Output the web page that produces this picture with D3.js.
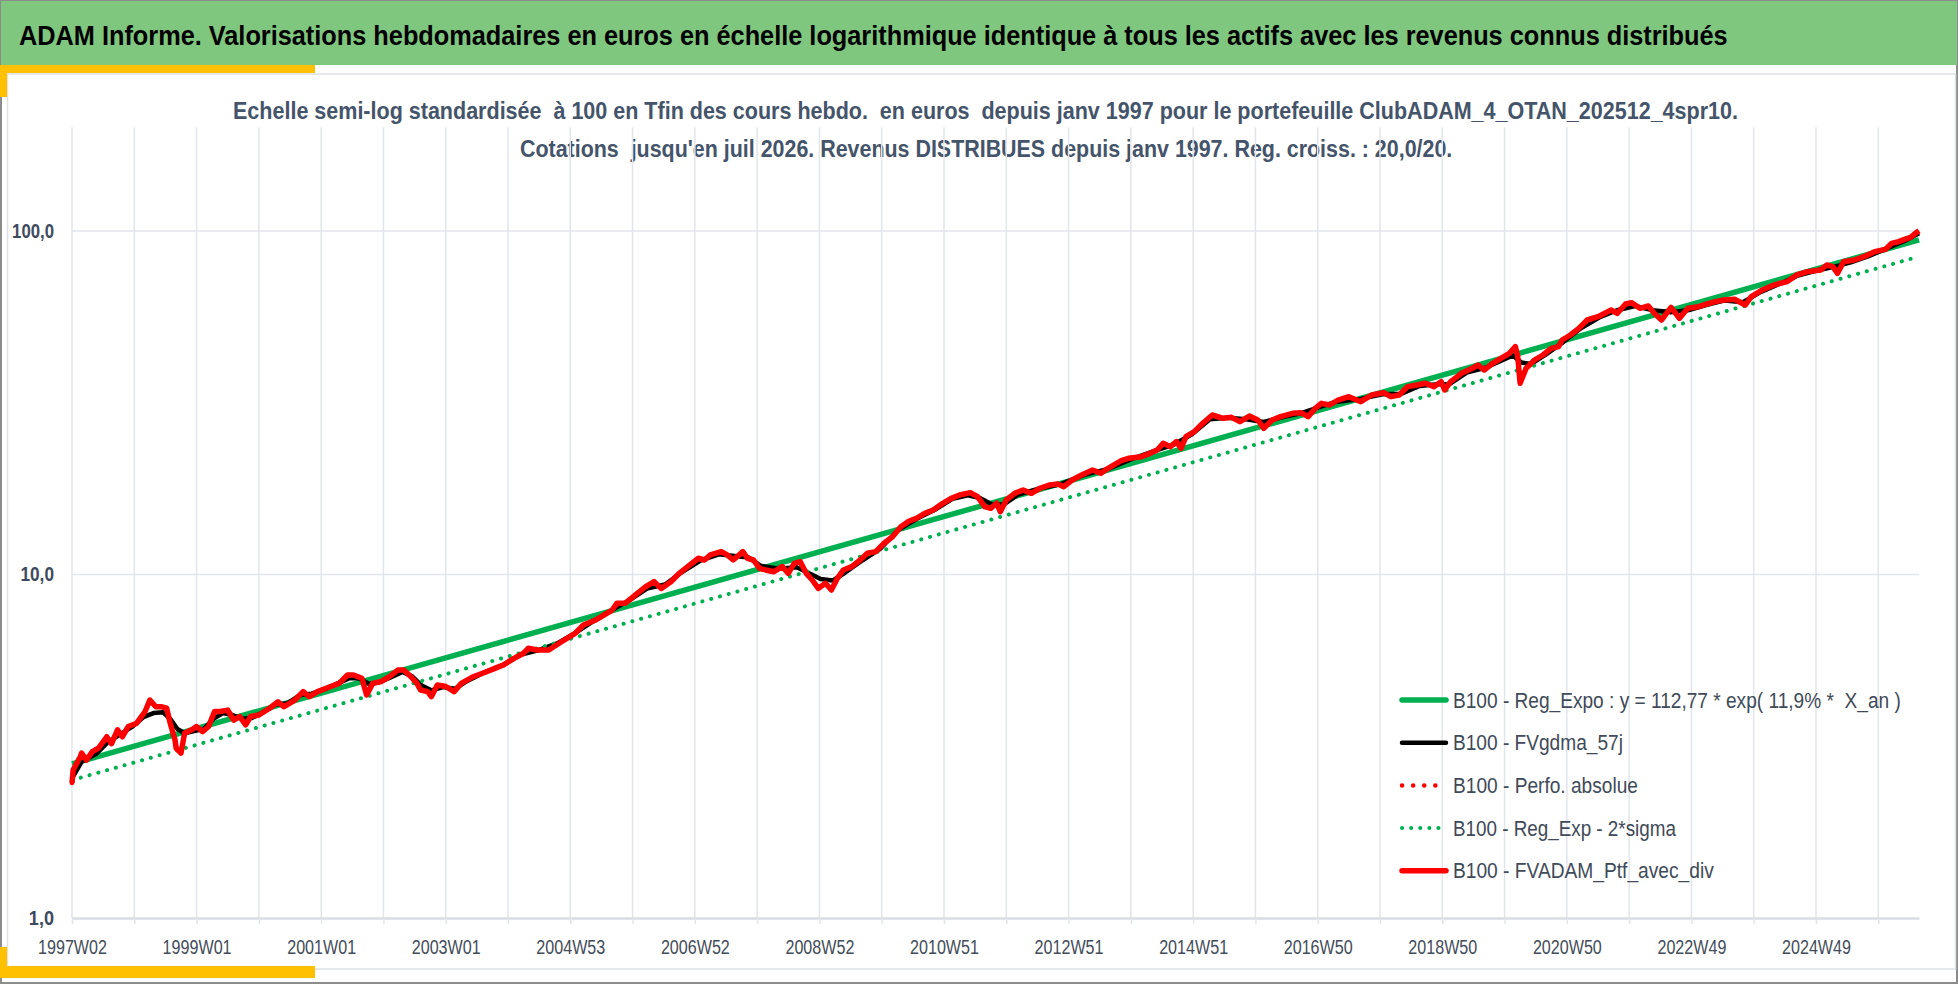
<!DOCTYPE html>
<html>
<head>
<meta charset="utf-8">
<script src="https://cdn.jsdelivr.net/npm/d3@7"></script>
<style>
  body { margin: 0; background: #fff; }
  text { font-family: "Liberation Sans Narrow", "Liberation Sans", Arial, sans-serif; white-space: pre; }
</style>
</head>
<body>
<div id="chart"></div>
<script>
// ---- data (week index from 1997W02, B100 values) ----
const xLabels = ["1997W02", "1999W01", "2001W01", "2003W01", "2004W53", "2006W52", "2008W52",
  "2010W51", "2012W51", "2014W51", "2016W50", "2018W50", "2020W50", "2022W49", "2024W49"];
const lastWeek = 1542;
const labelStep = 104;
const gridStep = 52;
const yTicks = [1, 10, 100];

const regPoints = [[0, 2.81], [1542, 94.2]];
const sigmaPoints = [[0, 2.52], [1542, 84.3]];

const ptfPoints = [
  [0, 2.47], [1, 2.70], [7, 2.95], [8, 3.02], [12, 2.88], [17, 3.05], [22, 3.12], [29, 3.37], [33, 3.22],
  [38, 3.53], [42, 3.37], [47, 3.61], [54, 3.69], [61, 3.99], [65, 4.31], [70, 4.12], [75, 4.12], [79, 4.08],
  [82, 3.69], [86, 3.30], [87, 3.12], [91, 3.02], [94, 3.45], [100, 3.53], [104, 3.61], [109, 3.49], [114, 3.61],
  [119, 3.99], [124, 3.99], [130, 4.03], [135, 3.77], [140, 3.86], [145, 3.65], [149, 3.86], [156, 3.90],
  [165, 4.08], [172, 4.26], [177, 4.12], [186, 4.31], [193, 4.56], [198, 4.41], [205, 4.56], [216, 4.72],
  [223, 4.82], [230, 5.10], [235, 5.10], [242, 4.99], [246, 4.46], [251, 4.82], [258, 4.88], [265, 5.04],
  [272, 5.27], [277, 5.27], [283, 5.04], [288, 4.82], [291, 4.61], [297, 4.56], [300, 4.41], [305, 4.77],
  [312, 4.72], [319, 4.56], [325, 4.82], [335, 5.04], [346, 5.21], [353, 5.33], [360, 5.45], [369, 5.70],
  [377, 5.90], [381, 6.10], [388, 6.03], [398, 6.03], [409, 6.38], [420, 6.74], [427, 7.13], [437, 7.37],
  [444, 7.62], [451, 7.88], [455, 8.25], [462, 8.25], [472, 8.81], [479, 9.22], [486, 9.53], [492, 9.11],
  [500, 9.53], [507, 10.08], [514, 10.54], [523, 11.15], [528, 11.02], [533, 11.40], [542, 11.66], [547, 11.40],
  [552, 11.02], [557, 11.40], [560, 11.66], [564, 11.15], [569, 11.02], [574, 10.42], [579, 10.31], [586, 10.19],
  [593, 10.54], [598, 10.08], [603, 10.78], [608, 10.90], [613, 10.08], [618, 9.64], [623, 9.11], [629, 9.43],
  [634, 9.01], [639, 9.75], [644, 10.31], [651, 10.54], [658, 11.02], [664, 11.53], [671, 11.66], [678, 12.33],
  [685, 12.88], [692, 13.78], [698, 14.25], [705, 14.58], [712, 15.07], [719, 15.41], [727, 16.12], [734, 16.66],
  [741, 17.04], [750, 17.31], [756, 16.85], [762, 15.76], [767, 15.58], [772, 16.12], [775, 15.24], [780, 16.48],
  [787, 17.23], [794, 17.62], [801, 17.23], [808, 17.82], [816, 18.22], [823, 18.34], [828, 18.02], [835, 18.84],
  [843, 19.49], [852, 20.15], [859, 19.71], [865, 20.38], [876, 21.45], [882, 21.79], [893, 22.03], [900, 22.53],
  [906, 23.04], [911, 24.09], [917, 23.56], [922, 24.36], [926, 23.30], [930, 25.19], [937, 26.05], [944, 27.55],
  [952, 29.13], [961, 28.49], [968, 28.68], [975, 27.86], [983, 28.93], [990, 28.17], [995, 26.65], [1002, 28.17],
  [1009, 28.81], [1019, 29.46], [1026, 29.59], [1032, 28.81], [1038, 30.46], [1043, 31.50], [1050, 31.15],
  [1057, 32.21], [1066, 32.94], [1076, 31.85], [1085, 33.31], [1095, 33.83], [1101, 32.94], [1108, 33.31],
  [1115, 35.23], [1123, 35.63], [1130, 36.03], [1137, 35.23], [1143, 36.43], [1146, 34.45], [1151, 36.43],
  [1160, 38.52], [1169, 39.83], [1174, 40.73], [1179, 39.38], [1186, 41.19], [1193, 42.60], [1200, 44.05],
  [1205, 46.06], [1207, 43.07], [1209, 36.03], [1214, 39.83], [1221, 42.12], [1228, 43.55], [1235, 45.54],
  [1241, 46.06], [1244, 48.16], [1251, 49.80], [1258, 52.07], [1265, 55.07], [1274, 56.31], [1285, 58.89],
  [1290, 57.59], [1297, 61.31], [1302, 61.86], [1309, 59.56], [1316, 60.49], [1321, 57.59], [1327, 55.07],
  [1335, 59.95], [1342, 55.69], [1349, 59.56], [1358, 60.22], [1365, 61.31], [1372, 62.28], [1379, 62.98],
  [1388, 63.27], [1397, 60.89], [1402, 64.41], [1411, 67.35], [1421, 69.65], [1432, 71.23], [1440, 74.47],
  [1449, 76.16], [1460, 77.01], [1465, 79.62], [1470, 78.74], [1474, 75.31], [1479, 81.42], [1488, 82.33],
  [1496, 84.20], [1505, 87.07], [1514, 88.44], [1519, 92.06], [1525, 93.09], [1530, 94.56], [1535, 95.84],
  [1539, 98.45], [1542, 100.2]
];

const gdmaPoints = [
  [0, 2.55], [8, 2.85], [20, 3.0], [30, 3.25], [40, 3.42], [50, 3.6], [60, 3.85], [68, 3.95], [76, 3.97],
  [82, 3.8], [88, 3.55], [94, 3.45], [102, 3.5], [110, 3.55], [118, 3.8], [126, 3.95], [134, 3.9], [142, 3.8],
  [150, 3.82], [160, 3.98], [170, 4.18], [180, 4.22], [190, 4.45], [200, 4.5], [212, 4.65], [222, 4.82],
  [232, 5.0], [240, 4.98], [248, 4.8], [256, 4.85], [266, 5.02], [276, 5.2], [284, 5.05], [292, 4.75],
  [300, 4.6], [310, 4.7], [320, 4.65], [330, 4.9], [345, 5.2], [360, 5.45], [375, 5.85], [390, 6.03],
  [405, 6.3], [420, 6.75], [435, 7.3], [450, 7.85], [465, 8.4], [480, 9.1], [495, 9.35], [510, 10.2],
  [525, 11.0], [540, 11.45], [555, 11.3], [565, 11.2], [575, 10.6], [590, 10.4], [605, 10.5], [615, 10.1],
  [625, 9.7], [635, 9.6], [645, 10.1], [660, 11.0], [675, 11.9], [690, 13.5], [705, 14.5], [720, 15.4],
  [735, 16.6], [748, 17.0], [758, 16.7], [768, 16.0], [778, 16.0], [790, 17.1], [805, 17.7], [825, 18.3],
  [845, 19.5], [865, 20.3], [885, 21.7], [905, 23.0], [920, 23.9], [935, 25.6], [950, 28.3], [965, 28.6],
  [980, 28.3], [995, 27.8], [1010, 28.7], [1025, 29.4], [1040, 30.6], [1055, 31.8], [1075, 32.4], [1095, 33.5],
  [1110, 33.6], [1125, 35.4], [1140, 35.8], [1150, 35.8], [1165, 38.8], [1180, 40.0], [1195, 42.2],
  [1203, 43.4], [1210, 41.4], [1218, 41.0], [1230, 43.6], [1245, 47.5], [1260, 52.2], [1275, 56.0],
  [1290, 58.8], [1305, 60.5], [1320, 58.8], [1335, 58.0], [1350, 58.9], [1365, 61.0], [1380, 62.8],
  [1395, 62.0], [1410, 66.5], [1425, 70.0], [1440, 74.0], [1455, 76.5], [1470, 78.5], [1485, 81.0],
  [1500, 84.5], [1515, 89.0], [1530, 93.5], [1542, 98.5]
];

const legendItems = [
  { name: "B100 - Reg_Expo : y = 112,77 * exp( 11,9% *  X_an )", color: "#00B050", width: 5.5, dash: null, len: 448 },
  { name: "B100 - FVgdma_57j", color: "#000000", width: 4.5, dash: null, len: 170 },
  { name: "B100 - Perfo. absolue", color: "#FF0000", width: 4.5, dash: "0.1 11", len: 185 },
  { name: "B100 - Reg_Exp - 2*sigma", color: "#00B050", width: 4, dash: "0.1 9", len: 223 },
  { name: "B100 - FVADAM_Ptf_avec_div", color: "#FF0000", width: 5.5, dash: null, len: 261 }
];

const W = 1958, H = 984;
const plot = { left: 72, right: 1919, top: 127.6, bottom: 918 };

const svg = d3.select("#chart").append("svg")
  .attr("width", W).attr("height", H);

// squeeze a text horizontally so it covers `target` px (condensed font look)
function squeeze(node, target, tx, ty) {
  const s = target / node.getComputedTextLength();
  d3.select(node).attr("transform", `translate(${tx},${ty}) scale(${s},1)`);
}

function addText(x0, y0, target, size, weight, color, str) {
  const t = svg.append("text").attr("x", 0).attr("y", 0)
    .attr("font-size", size).attr("font-weight", weight).attr("fill", color)
    .text(str);
  squeeze(t.node(), target, x0, y0);
  return t;
}

// frame, header, yellow accents
svg.append("rect").attr("x", 1).attr("y", 1).attr("width", W - 2).attr("height", H - 2)
  .attr("fill", "#fff").attr("stroke", "#8C8C8C").attr("stroke-width", 2);
svg.append("rect").attr("x", 1).attr("y", 1).attr("width", W - 2).attr("height", 64).attr("fill", "#7FC77F");
svg.append("rect").attr("x", 7.5).attr("y", 74).attr("width", W - 10).attr("height", 895)
  .attr("fill", "#fff").attr("stroke", "#DDE0E5").attr("stroke-width", 1.5);

const yellow = "#FFC000";
svg.append("rect").attr("x", 0).attr("y", 65).attr("width", 315).attr("height", 8).attr("fill", yellow);
svg.append("rect").attr("x", 0).attr("y", 65).attr("width", 7).attr("height", 32).attr("fill", yellow);
svg.append("rect").attr("x", 0).attr("y", 966).attr("width", 315).attr("height", 12).attr("fill", yellow);
svg.append("rect").attr("x", 0).attr("y", 947).attr("width", 7).attr("height", 31).attr("fill", yellow);

addText(19, 45, 1710, 27, "bold", "#000",
  "ADAM Informe. Valorisations hebdomadaires en euros en échelle logarithmique identique à tous les actifs avec les revenus connus distribués");
addText(233, 119, 1506, 24.5, "bold", "#44546A",
  "Echelle semi-log standardisée  à 100 en Tfin des cours hebdo.  en euros  depuis janv 1997 pour le portefeuille ClubADAM_4_OTAN_202512_4spr10.");
addText(520, 157, 933, 24.5, "bold", "#44546A",
  "Cotations  jusqu'en juil 2026. Revenus DISTRIBUES depuis janv 1997. Reg. croiss. : 20,0/20.");

// scales
const x = d3.scaleLinear().domain([0, lastWeek]).range([plot.left, plot.right]);
const y = d3.scaleLog().domain([1, 200]).range([plot.bottom, plot.top]);
const fr = d3.formatLocale({ decimal: ",", thousands: "\u00a0", grouping: [3], currency: ["", " €"] });
const yFmt = fr.format(".1f");

const gridWeeks = d3.range(0, lastWeek + 1, gridStep);
const gridColor = "#E2E5EB";

// vertical gridlines
svg.append("g").selectAll("line").data(gridWeeks).join("line")
  .attr("x1", d => x(d)).attr("x2", d => x(d))
  .attr("y1", plot.top).attr("y2", plot.bottom)
  .attr("stroke", gridColor).attr("stroke-width", 1.5);

// horizontal gridlines
svg.append("g").selectAll("line").data(yTicks.slice(1)).join("line")
  .attr("x1", plot.left).attr("x2", plot.right)
  .attr("y1", d => y(d)).attr("y2", d => y(d))
  .attr("stroke", gridColor).attr("stroke-width", 1.5);

// x axis
const xAxis = svg.append("g")
  .attr("transform", `translate(0,${plot.bottom})`)
  .call(d3.axisBottom(x).tickValues(gridWeeks).tickSize(6).tickSizeOuter(0).tickPadding(15)
    .tickFormat(d => d % labelStep === 0 ? xLabels[d / labelStep] : ""));
xAxis.select(".domain").attr("stroke", "#D9DCE2").attr("stroke-width", 2.5);
xAxis.selectAll(".tick line").attr("stroke", gridColor).attr("stroke-width", 1.5);
xAxis.selectAll(".tick text").attr("font-size", 21).attr("fill", "#434C59")
  .attr("font-family", null)
  .filter(d => d % labelStep === 0)
  .each(function () { squeeze(this, 69, 0, 0); });

// y axis
const yAxis = svg.append("g")
  .attr("transform", `translate(${plot.left},0)`)
  .call(d3.axisLeft(y).tickValues(yTicks).tickSize(0).tickPadding(18).tickFormat(yFmt));
yAxis.select(".domain").remove();
yAxis.selectAll(".tick text").attr("font-size", 20).attr("font-weight", "bold").attr("fill", "#3E4B5E")
  .attr("font-family", null)
  .attr("x", 0)
  .each(function (d) { squeeze(this, yFmt(d).length * 8.4, -18, 0); });

// series
const line = d3.line().x(d => x(d[0])).y(d => y(d[1]));
const series = [
  { pts: regPoints, item: legendItems[0] },
  { pts: gdmaPoints, item: legendItems[1] },
  { pts: ptfPoints, item: legendItems[2] },
  { pts: sigmaPoints, item: legendItems[3] },
  { pts: ptfPoints, item: legendItems[4] }
];
series.forEach(({ pts, item }) => {
  svg.append("path").datum(pts)
    .attr("fill", "none")
    .attr("stroke", item.color)
    .attr("stroke-width", item.width)
    .attr("stroke-linejoin", "round")
    .attr("stroke-linecap", item.dash ? "round" : "butt")
    .attr("stroke-dasharray", item.dash)
    .attr("d", line);
});

// legend
legendItems.forEach((item, i) => {
  const ly = 700 + i * 42.7;
  svg.append("line")
    .attr("x1", 1402).attr("x2", 1446).attr("y1", ly).attr("y2", ly)
    .attr("stroke", item.color).attr("stroke-width", item.width)
    .attr("stroke-linecap", "round")
    .attr("stroke-dasharray", item.dash);
  addText(1453, ly + 7.5, item.len, 22, "normal", "#404A58", item.name);
});
</script>
</body>
</html>
